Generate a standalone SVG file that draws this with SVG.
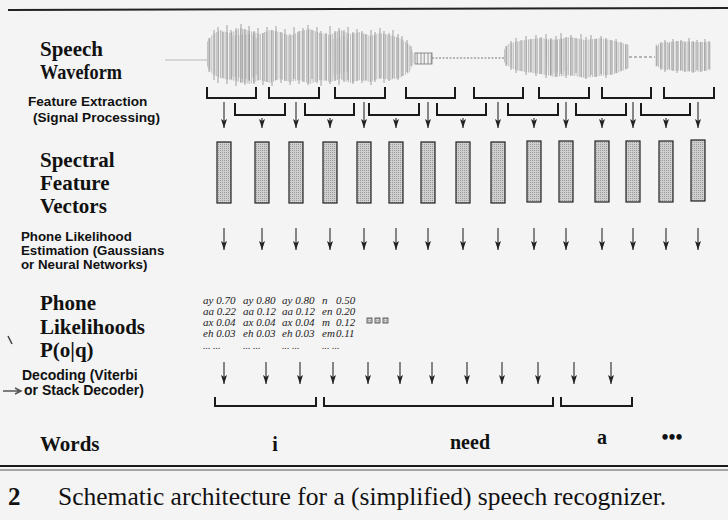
<svg xmlns="http://www.w3.org/2000/svg" width="728" height="520" viewBox="0 0 728 520">
<defs>
<style>
.lbl{font-family:"Liberation Serif","Times New Roman",serif;font-weight:bold;font-size:21px;fill:#111}
.sl{font-family:"Liberation Sans",Arial,sans-serif;font-weight:bold;font-size:14px;fill:#111}
.sl2{font-family:"Liberation Sans",Arial,sans-serif;font-weight:bold;font-size:13.3px;fill:#111}
.tb{font-family:"Liberation Serif","Times New Roman",serif;font-style:italic;font-size:11px;fill:#222}
.dt{font-family:"Liberation Serif","Times New Roman",serif;font-style:italic;font-size:10px;fill:#333}
.br{fill:none;stroke:#1a1a1a;stroke-width:2}
.ar{stroke:#2a2a2a;stroke-width:1.1;marker-end:url(#ah)}
.bar{fill:url(#stip);stroke:#222;stroke-width:1.2}
.wd{font-family:"Liberation Serif","Times New Roman",serif;font-weight:bold;font-size:20px;fill:#111}
.sp{stroke:#8a8a8a;stroke-width:0.8;fill:none}
</style>
<marker id="ah" markerWidth="6" markerHeight="9" refX="3" refY="9" orient="0" markerUnits="userSpaceOnUse" viewBox="0 0 6 9">
<path d="M0,0 L3,2 L6,0 L3,9 z" fill="#222"/>
</marker>
<pattern id="stip" width="2" height="2" patternUnits="userSpaceOnUse">
<rect width="2" height="2" fill="#cfcfcf"/>
<rect width="1" height="1" fill="#9c9c9c"/>
</pattern>
<pattern id="wave" width="11" height="120" patternUnits="userSpaceOnUse">
<path d="M0.5 0V120M2.8 0V120M5.1 0V120M7.4 0V120M9.6 0V120" stroke="#a6a6a6" stroke-width="0.7"/>
<path d="M1.7 0V120M6.2 0V120" stroke="#c6c6c6" stroke-width="0.6"/>
</pattern>
<pattern id="wave2" width="7" height="120" patternUnits="userSpaceOnUse">
<path d="M1 0V120M4.2 0V120" stroke="#666" stroke-width="0.7"/>
</pattern>
</defs>
<rect width="728" height="520" fill="#f4f4f4"/>
<line x1="8" y1="10" x2="728" y2="8" stroke="#222" stroke-width="2"/>

<g id="labels">
<text class="lbl" x="40" y="56">Speech</text>
<text class="lbl" x="40" y="79" textLength="82" lengthAdjust="spacingAndGlyphs">Waveform</text>
<text class="sl" x="28" y="106" style="font-size:13.6px">Feature Extraction</text>
<text class="sl" x="33" y="122" style="font-size:13.6px">(Signal Processing)</text>
<text class="lbl" x="40" y="167">Spectral</text>
<text class="lbl" x="40" y="190">Feature</text>
<text class="lbl" x="40" y="213">Vectors</text>
<text class="sl2" x="21" y="241">Phone Likelihood</text>
<text class="sl2" x="21" y="255">Estimation (Gaussians</text>
<text class="sl2" x="21" y="269">or Neural Networks)</text>
<text class="lbl" x="40" y="310">Phone</text>
<text class="lbl" x="40" y="334">Likelihoods</text>
<text class="lbl" x="40" y="357">P(o|q)</text>
<text class="sl" x="22" y="380">Decoding (Viterbi</text>
<text class="sl" x="24" y="395">or Stack Decoder)</text>
<text class="lbl" x="40" y="451">Words</text>
<path d="M8,336 L12,344" stroke="#444" stroke-width="1.5"/>
<path d="M3,391 L20,391 M15,388 L21,391 L15,394" stroke="#555" stroke-width="1.5" fill="none"/>
</g>

<g id="waveform">
<line x1="165" y1="60" x2="207" y2="60" stroke="#b8b8b8" stroke-width="1"/>
<path d="M207,42 L212,35 220,30 230,33 240,28 250,31 260,34 270,30 280,32 290,36 300,31 310,29 320,33 330,35 340,30 350,34 360,32 370,36 380,33 390,35 400,38 410,45 414,55 414,62 410,72 400,78 390,80 380,78 370,82 360,80 350,83 340,79 330,82 320,80 310,84 300,80 290,82 280,79 270,83 260,80 250,84 240,82 230,80 220,78 212,74 207,66 Z" fill="url(#wave)"/>
<path class="sp" d="M209,38V72M214,30V80M218,27V83M223,32V78M227,25V84M231,30V79M236,28V86M241,24V83M245,29V85M249,26V81M254,31V84M258,28V80M263,33V85M267,27V82M272,30V86M276,26V80M281,32V83M285,29V81M290,34V85M294,27V79M299,31V84M303,28V82M308,25V85M312,30V79M317,27V83M321,31V86M326,33V80M330,26V84M335,31V81M339,28V85M344,30V82M348,27V80M353,32V84M357,29V81M362,31V83M366,34V80M371,30V85M375,32V82M380,28V79M384,31V83M389,33V81M393,30V78M398,34V80M402,36V76M407,40V72M411,46V66"/>
<path d="M232,36 L252,34 258,40 258,74 250,80 232,76 Z" fill="url(#wave2)" opacity="0.45"/>
<path d="M330,40 L345,36 350,45 348,72 333,75 Z" fill="url(#wave2)" opacity="0.3"/>
<rect x="415" y="53" width="17" height="11" fill="url(#wave2)" stroke="#777" stroke-width="0.8"/>
<line x1="432" y1="58" x2="505" y2="58" stroke="#777" stroke-width="1" stroke-dasharray="2 1.5"/>
<path d="M504,50 L508,44 515,42 525,40 540,38 555,40 570,37 585,40 600,38 615,41 629,45 629,68 615,74 600,76 585,78 570,75 555,77 540,74 525,72 515,70 508,66 504,62 Z" fill="url(#wave)"/>
<path class="sp" d="M506,46V66M511,41V70M516,38V73M521,40V71M526,36V75M531,39V72M536,35V76M541,37V74M546,34V78M551,38V75M556,36V77M561,33V74M566,37V78M571,35V76M576,38V73M581,34V77M586,37V79M591,35V75M596,39V77M601,36V74M606,38V78M611,40V75M616,39V73M621,42V71M626,44V69"/>
<path d="M545,40 L565,38 568,70 548,74 Z" fill="url(#wave2)" opacity="0.3"/>
<line x1="629" y1="57" x2="655" y2="57" stroke="#777" stroke-width="1" stroke-dasharray="3 2"/>
<path d="M655,45 L665,42 680,41 695,42 711,42 711,70 695,72 680,71 665,70 655,66 Z" fill="url(#wave)"/>
<path class="sp" d="M657,46V66M661,42V70M665,40V72M669,43V69M673,39V71M677,41V73M681,40V70M685,42V72M689,38V71M693,41V73M697,40V70M701,42V72M705,39V71M709,41V69"/>
</g>

<g id="feature-brackets">
<path class="br" d="M207,87V98H256V87M269,87V98H319V87M335,87V98H385V87M406,87V98H455V87M474,87V98H523V87M539,87V98H589V87M602,87V98H651V87M664,87V98H714V87"/>
<path class="br" d="M235,103V115H285V103M305,103V115H354V103M369,103V115H419V103M437,103V115H486V103M508,103V115H558V103M576,103V115H626V103M641,103V115H690V103"/>
</g>

<g id="spectral-vectors">
<rect class="bar" x="217" y="142" width="14" height="61"/>
<rect class="bar" x="255" y="142" width="14" height="61"/>
<rect class="bar" x="289" y="142" width="14" height="61"/>
<rect class="bar" x="323" y="142" width="14" height="61"/>
<rect class="bar" x="357" y="142" width="14" height="61"/>
<rect class="bar" x="389" y="142" width="14" height="61"/>
<rect class="bar" x="421" y="142" width="14" height="61"/>
<rect class="bar" x="456" y="142" width="14" height="61"/>
<rect class="bar" x="491" y="142" width="14" height="61"/>
<rect class="bar" x="527" y="141" width="14" height="61"/>
<rect class="bar" x="559" y="141" width="14" height="61"/>
<rect class="bar" x="595" y="141" width="14" height="61"/>
<rect class="bar" x="626" y="141" width="14" height="61"/>
<rect class="bar" x="659" y="141" width="14" height="61"/>
<rect class="bar" x="691" y="140" width="14" height="61"/>
</g>

<g id="phone-likelihoods">
<text class="tb" x="203" y="304">ay 0.70</text><text class="tb" x="243" y="304">ay 0.80</text><text class="tb" x="282" y="304">ay 0.80</text><text class="tb" x="322" y="304">n</text><text class="tb" x="336" y="304">0.50</text>
<text class="tb" x="203" y="315">aa 0.22</text><text class="tb" x="243" y="315">aa 0.12</text><text class="tb" x="282" y="315">aa 0.12</text><text class="tb" x="322" y="315">en</text><text class="tb" x="336" y="315">0.20</text>
<text class="tb" x="203" y="326">ax 0.04</text><text class="tb" x="243" y="326">ax 0.04</text><text class="tb" x="282" y="326">ax 0.04</text><text class="tb" x="322" y="326">m</text><text class="tb" x="336" y="326">0.12</text>
<text class="tb" x="203" y="337">eh 0.03</text><text class="tb" x="243" y="337">eh 0.03</text><text class="tb" x="282" y="337">eh 0.03</text><text class="tb" x="322" y="337">em</text><text class="tb" x="336" y="337">0.11</text>
<text class="dt" x="203" y="349">... ...</text><text class="dt" x="243" y="349">... ...</text><text class="dt" x="282" y="349">... ...</text><text class="dt" x="322" y="349">... ...</text>
<rect x="367" y="318" width="5" height="5" fill="url(#stip)" stroke="#444" stroke-width="0.8"/>
<rect x="375" y="318" width="5" height="5" fill="url(#stip)" stroke="#444" stroke-width="0.8"/>
<rect x="383" y="318" width="5" height="5" fill="url(#stip)" stroke="#444" stroke-width="0.8"/>
</g>

<g id="word-brackets">
<path class="br" d="M215,397V406H316V397M324,397V406H553V397M561,397V406H632V397"/>
</g>

<g id="words">
<text class="wd" x="275" y="451" text-anchor="middle">i</text>
<text class="wd" x="470" y="449" text-anchor="middle">need</text>
<text class="wd" x="602" y="444" text-anchor="middle">a</text>
<text class="wd" x="672" y="444" text-anchor="middle">•••</text>
</g>

<g id="connectors">
<line class="ar" x1="224" y1="102" x2="224" y2="128"/>
<line class="ar" x1="262" y1="118" x2="262" y2="128"/>
<line class="ar" x1="296" y1="102" x2="296" y2="128"/>
<line class="ar" x1="330" y1="118" x2="330" y2="128"/>
<line class="ar" x1="364" y1="102" x2="364" y2="128"/>
<line class="ar" x1="396" y1="118" x2="396" y2="128"/>
<line class="ar" x1="428" y1="102" x2="428" y2="128"/>
<line class="ar" x1="463" y1="118" x2="463" y2="128"/>
<line class="ar" x1="498" y1="102" x2="498" y2="128"/>
<line class="ar" x1="534" y1="118" x2="534" y2="128"/>
<line class="ar" x1="566" y1="102" x2="566" y2="128"/>
<line class="ar" x1="602" y1="118" x2="602" y2="128"/>
<line class="ar" x1="633" y1="102" x2="633" y2="128"/>
<line class="ar" x1="666" y1="118" x2="666" y2="128"/>
<line class="ar" x1="698" y1="102" x2="698" y2="128"/>

<line class="ar" x1="224" y1="228" x2="224" y2="250"/>
<line class="ar" x1="262" y1="228" x2="262" y2="250"/>
<line class="ar" x1="296" y1="228" x2="296" y2="250"/>
<line class="ar" x1="330" y1="228" x2="330" y2="250"/>
<line class="ar" x1="364" y1="228" x2="364" y2="250"/>
<line class="ar" x1="396" y1="228" x2="396" y2="250"/>
<line class="ar" x1="428" y1="228" x2="428" y2="250"/>
<line class="ar" x1="463" y1="228" x2="463" y2="250"/>
<line class="ar" x1="498" y1="228" x2="498" y2="250"/>
<line class="ar" x1="534" y1="228" x2="534" y2="250"/>
<line class="ar" x1="566" y1="228" x2="566" y2="250"/>
<line class="ar" x1="602" y1="228" x2="602" y2="250"/>
<line class="ar" x1="633" y1="228" x2="633" y2="250"/>
<line class="ar" x1="666" y1="228" x2="666" y2="250"/>
<line class="ar" x1="698" y1="228" x2="698" y2="250"/>

<line class="ar" x1="224" y1="362" x2="224" y2="384"/>
<line class="ar" x1="266" y1="362" x2="266" y2="384"/>
<line class="ar" x1="300" y1="362" x2="300" y2="384"/>
<line class="ar" x1="333" y1="362" x2="333" y2="384"/>
<line class="ar" x1="368" y1="362" x2="368" y2="384"/>
<line class="ar" x1="400" y1="362" x2="400" y2="384"/>
<line class="ar" x1="432" y1="362" x2="432" y2="384"/>
<line class="ar" x1="467" y1="362" x2="467" y2="384"/>
<line class="ar" x1="502" y1="362" x2="502" y2="384"/>
<line class="ar" x1="538" y1="362" x2="538" y2="384"/>
<line class="ar" x1="574" y1="362" x2="574" y2="384"/>
<line class="ar" x1="611" y1="362" x2="611" y2="384"/>
</g>

<g id="caption">
<line x1="0" y1="466" x2="728" y2="466" stroke="#1a1a1a" stroke-width="2"/>
<line x1="0" y1="470" x2="728" y2="470" stroke="#555" stroke-width="1"/>
<text x="8" y="505" style="font-family:'Liberation Serif','Times New Roman',serif;font-weight:bold;font-size:25px;fill:#111">2</text>
<text x="58" y="505" style="font-family:'Liberation Serif','Times New Roman',serif;font-size:25.5px;fill:#111">Schematic architecture for a (simplified) speech recognizer.</text>
</g>
</svg>
